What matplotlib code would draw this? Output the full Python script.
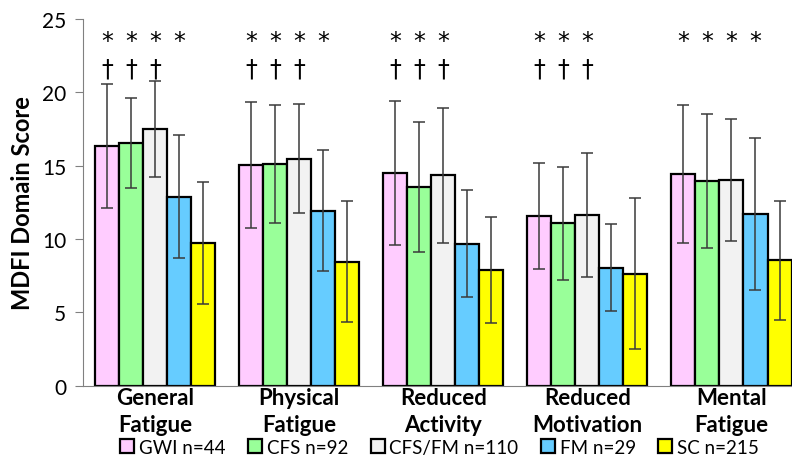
import numpy as np
import matplotlib
matplotlib.use("Agg")
import matplotlib.pyplot as plt

plt.rcParams['font.family'] = ['Lato', 'DejaVu Sans']

# domains on the x axis
domains = ['General\nFatigue', 'Physical\nFatigue', 'Reduced\nActivity',
           'Reduced\nMotivation', 'Mental\nFatigue']
groups = ['GWI n=44', 'CFS n=92', 'CFS/FM n=110', 'FM n=29', 'SC n=215']
colors = ['#FFCCFF', '#99FF99', '#F2F2F2', '#66CCFF', '#FFFF00']

# mean scores, one list per group (order of domains)
gwi = [16.35, 15.05, 14.49, 11.57, 14.44]
cfs = [16.55, 15.12, 13.55, 11.07, 13.96]
cfs_fm = [17.50, 15.48, 14.34, 11.64, 14.03]
fm = [12.90, 11.95, 9.68, 8.06, 11.71]
sc = [9.73, 8.45, 7.88, 7.63, 8.56]

# standard deviations
gwi_sd = [4.23, 4.30, 4.91, 3.60, 4.73]
cfs_sd = [3.08, 4.00, 4.41, 3.87, 4.56]
cfs_fm_sd = [3.28, 3.73, 4.61, 4.20, 4.18]
fm_sd = [4.19, 4.12, 3.65, 2.97, 5.17]
sc_sd = [4.16, 4.12, 3.61, 5.15, 4.04]

# significance marks: number of leading bars that get each mark
star_count = [4, 4, 3, 3, 4]
dagger_count = [3, 3, 3, 3, 0]

means = [gwi, cfs, cfs_fm, fm, sc]
sds = [gwi_sd, cfs_sd, cfs_fm_sd, fm_sd, sc_sd]

fig = plt.figure(figsize=(7.92, 4.6), dpi=100)
ax = fig.add_axes([0.1048, 0.159, 0.8952, 0.7975])

x = np.arange(len(domains))
w = 1 / 6
for i in range(len(groups)):
    pos = x + (i - 2) * w
    ax.bar(pos, means[i], w, color=colors[i], edgecolor='black',
           linewidth=1.6, label=groups[i], zorder=2)
    ax.errorbar(pos, means[i], yerr=sds[i], fmt='none', ecolor='#3a3a3a',
                elinewidth=1.1, capsize=4.5, capthick=1.1, zorder=3)

for j in range(len(domains)):
    for i in range(star_count[j]):
        ax.text(x[j] + (i - 2) * w, 23.5, '*', ha='center', va='center',
                fontsize=17, family='DejaVu Sans')
    for i in range(dagger_count[j]):
        ax.text(x[j] + (i - 2) * w, 21.6, '\u2020', ha='center', va='center',
                fontsize=17, family='DejaVu Sans')

ax.set_xlim(-0.5, 4.42)
ax.set_ylim(0, 25)
ax.set_yticks([0, 5, 10, 15, 20, 25])
ax.set_xticks(x)
ax.set_xticklabels(domains, fontsize=16, fontweight='bold', linespacing=1.35)
ax.tick_params(axis='x', length=0, pad=1)
ax.tick_params(axis='y', labelsize=15, length=6, color='#808080', pad=6)
ax.set_ylabel('MDFI Domain Score', fontsize=17, fontweight='bold', labelpad=6)

for s in ['top', 'right']:
    ax.spines[s].set_visible(False)
ax.spines['left'].set_color('#808080')
ax.spines['bottom'].set_color('#808080')

handles = [plt.Rectangle((0, 0), 1, 1, facecolor=c, edgecolor='black', linewidth=1.6)
           for c in colors]
fig.legend(handles, groups, loc='center', bbox_to_anchor=(0.555, 0.026), ncol=5,
           frameon=False, fontsize=13.5, handlelength=0.75, handleheight=0.75,
           handletextpad=0.25, columnspacing=1.2, borderpad=0)

fig.savefig('out.png', dpi=100)
